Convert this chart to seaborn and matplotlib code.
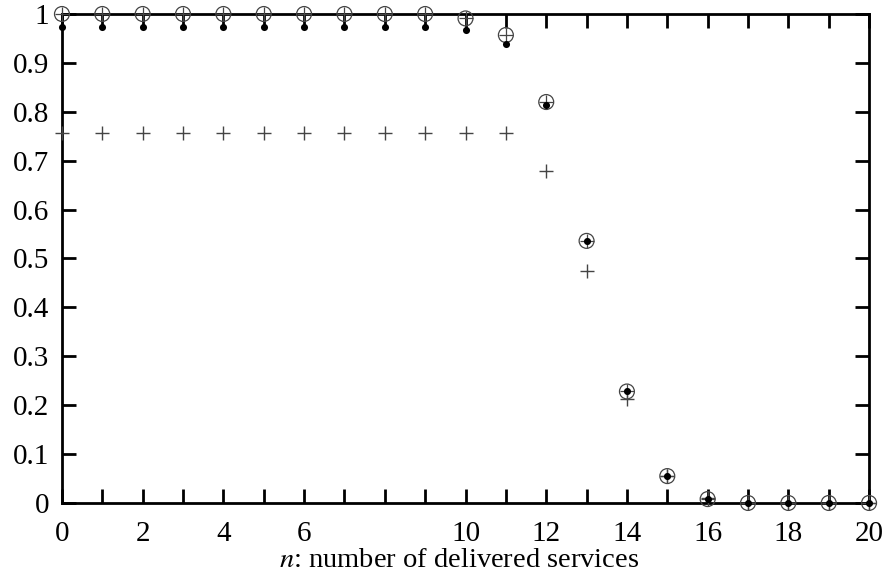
import matplotlib
matplotlib.use("Agg")
import matplotlib.pyplot as plt
import seaborn as sns
import pandas as pd

n_values = list(range(21))
circle_values = [1.0, 1.0, 1.0, 1.0, 1.0, 1.0, 1.0, 1.0, 1.0, 1.0, 0.991, 0.957,
                 0.820, 0.536, 0.228, 0.055, 0.008, 0.0, 0.0, 0.0, 0.0]
dot_values = [0.973, 0.973, 0.973, 0.973, 0.973, 0.973, 0.973, 0.973, 0.973, 0.973, 0.967, 0.938,
              0.814, 0.536, 0.228, 0.055, 0.008, 0.0, 0.0, 0.0, 0.0]
plus_values = [0.756, 0.756, 0.756, 0.756, 0.756, 0.756, 0.756, 0.756, 0.756, 0.756, 0.756, 0.756,
               0.679, 0.475, 0.212, 0.055, 0.010, 0.0, 0.0, 0.0, 0.0]

xtick_positions = list(range(21))
xtick_labels = ["0", "", "2", "", "4", "", "6", "", "", "", "10", "", "12", "", "14", "", "16", "", "18", "", "20"]
ytick_positions = [0, 0.1, 0.2, 0.3, 0.4, 0.5, 0.6, 0.7, 0.8, 0.9, 1.0]
ytick_labels = ["0", "0.1", "0.2", "0.3", "0.4", "0.5", "0.6", "0.7", "0.8", "0.9", "1"]
xlabel = "$n$: number of delivered services"

df = pd.DataFrame({"n": n_values, "circle": circle_values, "dot": dot_values, "plus": plus_values})

sns.set_theme(style="ticks")
plt.rcParams["font.family"] = ["Liberation Serif", "DejaVu Serif"]
plt.rcParams["mathtext.fontset"] = "stix"

fig = plt.figure(figsize=(8.85, 5.79), dpi=100)
ax = fig.add_axes([0.070, 0.1313, 0.912, 0.8445])

mc = "#444444"
sns.scatterplot(data=df, x="n", y="plus", marker="+", s=110, color=mc, linewidth=1.0, ax=ax, clip_on=False, zorder=3)
sns.scatterplot(data=df, x="n", y="circle", marker="o", s=115, facecolor="none", edgecolor=mc, linewidth=0.9, ax=ax, clip_on=False, zorder=3)
sns.scatterplot(data=df, x="n", y="circle", marker="+", s=115, color=mc, linewidth=0.9, ax=ax, clip_on=False, zorder=3)
sns.scatterplot(data=df, x="n", y="dot", marker="o", s=26, color="black", edgecolor="black", linewidth=0, ax=ax, clip_on=False, zorder=4)

ax.set_xlim(0, 20)
ax.set_ylim(0, 1)
ax.set_xticks(xtick_positions)
ax.set_xticklabels(xtick_labels)
ax.set_yticks(ytick_positions)
ax.set_yticklabels(ytick_labels)
ax.set_xlabel(xlabel, fontsize=20.5, labelpad=0, color="black")
ax.xaxis.set_label_coords(0.492, -0.117)
ax.xaxis.label.set_va("center")
ax.set_ylabel("")

for sp in ax.spines.values():
    sp.set_visible(True)
    sp.set_linewidth(2.0)
    sp.set_color("black")
    sp.set_zorder(2)

ax.tick_params(direction="in", length=10, width=2, colors="black", labelsize=21,
               top=True, right=True)
ax.tick_params(axis="x", pad=13)
ax.tick_params(axis="y", pad=9)

fig.savefig("out.png", dpi=100)
